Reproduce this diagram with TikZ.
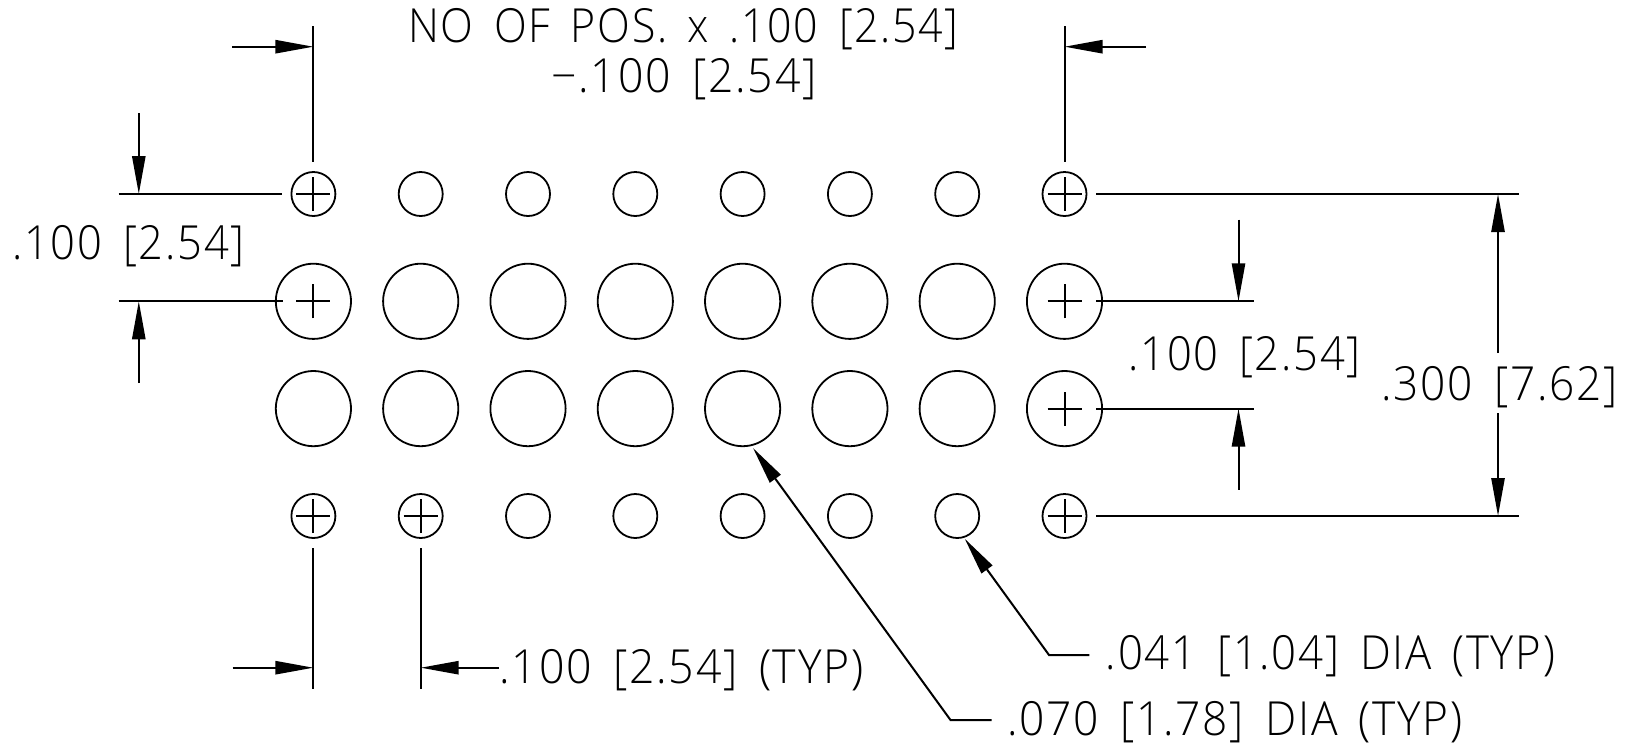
\documentclass[tikz,border=0pt]{standalone}
\usepackage{fontspec}
\setmainfont[LetterSpace=4,WordSpace=1.6]{Open Sans Light}
\usetikzlibrary{arrows.meta}
\newcommand{\fitw}[2]{\resizebox{#1}{\height}{#2}}
\tikzset{
  x=0.5pt,y=-0.5pt,
  line/.style={line width=1pt,black},
  holeS/.style={circle,draw,line width=0.9pt,minimum size=22pt,inner sep=0pt},
  holeB/.style={circle,draw,line width=0.9pt,minimum size=37.6pt,inner sep=0pt},
  crossmark/.style={line width=1pt},
  tip/.style={line,-{Triangle[length=19pt,width=6.6pt]}},
  lab/.style={anchor=base west,inner sep=0pt,font=\fontsize{23.5pt}{28pt}\selectfont}
}
\begin{document}
\begin{tikzpicture}
\useasboundingbox (0,0) rectangle (1631,745);
% holes
\foreach \c/\xx in {1/313.4,2/420.7,3/528,4/635.3,5/742.6,6/849.9,7/957.2,8/1064.5}{
  \node[holeS] (a\c) at (\xx,194) {};
  \node[holeB] (b\c) at (\xx,301.3) {};
  \node[holeB] (c\c) at (\xx,408.6) {};
  \node[holeS] (d\c) at (\xx,516) {};
}
% centre crosses
\foreach \h in {a1,a8,b1,b8,c8,d1,d2,d8}{
  \draw[crossmark] ([xshift=-8.5pt]\h.center) -- ([xshift=8.5pt]\h.center);
  \draw[crossmark] ([yshift=-8.5pt]\h.center) -- ([yshift=8.5pt]\h.center);
}
% free ends
\coordinate (e1t) at (313.4,26);  \coordinate (e1b) at (313.4,162);
\coordinate (e8t) at (1064.5,26); \coordinate (e8b) at (1064.5,162);
\coordinate (tlS) at (232,46.7);  \coordinate (tlE) at (313.4,46.7);
\coordinate (trS) at (1146,46.7); \coordinate (trE) at (1064.5,46.7);
\coordinate (l1a) at (118.5,194); \coordinate (l1b) at (282,194);
\coordinate (l2a) at (118.5,301.3); \coordinate (l2b) at (283,301.3);
\coordinate (ldS) at (138.8,113); \coordinate (ldE) at (138.8,194);
\coordinate (luS) at (138.8,383); \coordinate (luE) at (138.8,301.3);
\coordinate (r1a) at (1096,194);  \coordinate (r1b) at (1519,194);
\coordinate (r2a) at (1096,301.3); \coordinate (r2b) at (1254,301.3);
\coordinate (r3a) at (1096,408.6); \coordinate (r3b) at (1254,408.6);
\coordinate (r4a) at (1096,516);  \coordinate (r4b) at (1519,516);
\coordinate (m1S) at (1238.5,219.5); \coordinate (m1E) at (1238.5,301.3);
\coordinate (m2S) at (1238.5,489.7); \coordinate (m2E) at (1238.5,408.6);
\coordinate (o1S) at (1498,353);  \coordinate (o1E) at (1498,194);
\coordinate (o2S) at (1498,413);  \coordinate (o2E) at (1498,516);
\coordinate (f1t) at (313.4,548); \coordinate (f1b) at (313.4,688.5);
\coordinate (f2t) at (420.7,548); \coordinate (f2b) at (420.7,688.5);
\coordinate (blS) at (232.6,667.7); \coordinate (blE) at (313.4,667.7);
\coordinate (brS) at (499,667.7);  \coordinate (brE) at (420.7,667.7);
\coordinate (bigTip) at (753,448);  \coordinate (bigC) at (950.5,720); \coordinate (bigE) at (991.7,720);
\coordinate (smTip) at (964.7,538.7); \coordinate (smC) at (1049,655); \coordinate (smE) at (1089.4,655);
% extension lines
\foreach \p/\q in {e1t/e1b,e8t/e8b,l1a/l1b,l2a/l2b,r1a/r1b,r2a/r2b,r3a/r3b,r4a/r4b,f1t/f1b,f2t/f2b}
  \draw[line] (\p) -- (\q);
% dimension arrows
\foreach \p/\q in {tlS/tlE,trS/trE,ldS/ldE,luS/luE,m1S/m1E,m2S/m2E,o1S/o1E,o2S/o2E,blS/blE,brS/brE}
  \draw[tip] (\p) -- (\q);
% leaders
\draw[tip] (bigE) -- (bigC) -- (bigTip);
\draw[tip] (smE) -- (smC) -- (smTip);
% labels
\node[lab] (t1) at (408,42.5) {\fitw{275pt}{NO OF POS. x .100 [2.54]}};
\node[lab] (t2) at (551,92) {\fitw{132.5pt}{−.100 [2.54]}};
\node[lab] (t3) at (12,259.5) {\fitw{116pt}{.100 [2.54]}};
\node[lab] (t4) at (1128,370.5) {\fitw{116pt}{.100 [2.54]}};
\node[lab] (t5) at (1381,400.5) {\fitw{118pt}{.300 [7.62]}};
\node[lab] (t6) at (499,683.5) {\fitw{182pt}{.100 [2.54] (TYP)}};
\node[lab] (t7) at (1105.5,669.5) {\fitw{224.5pt}{.041 [1.04] DIA (TYP)}};
\node[lab] (t8) at (1007,735.5) {\fitw{227.5pt}{.070 [1.78] DIA (TYP)}};
\end{tikzpicture}
\end{document}
